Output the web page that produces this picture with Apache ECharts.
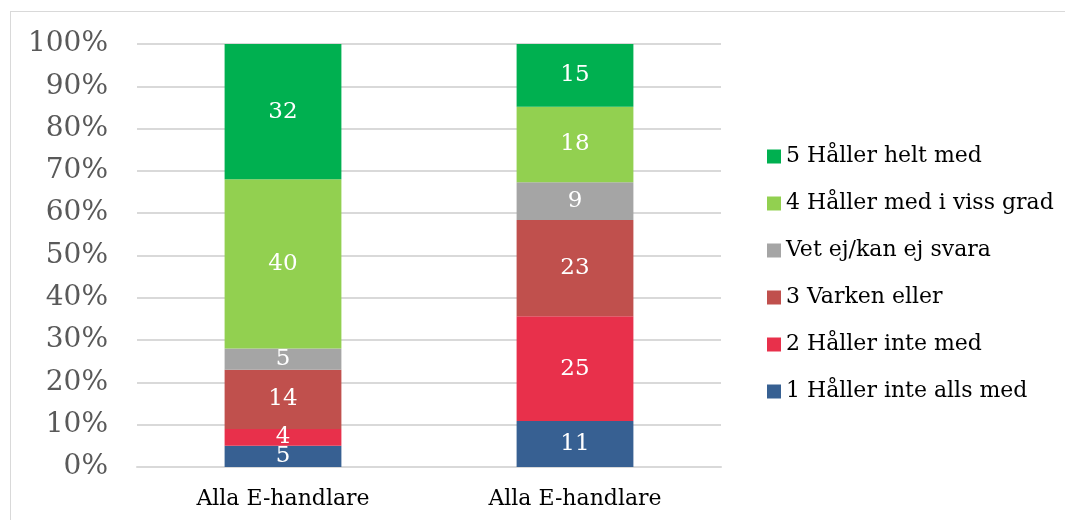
<!DOCTYPE html>
<html>
<head>
<meta charset="utf-8">
<script src="https://cdn.jsdelivr.net/npm/echarts@6/dist/echarts.min.js"></script>
<style>
  html, body { margin: 0; padding: 0; background: #fff; }
  #wrap { position: relative; width: 1065px; height: 520px; overflow: hidden; }
  #frame { position: absolute; left: 10px; top: 11px; width: 1100px; height: 560px; border: 1.5px solid #d9d9d9; box-sizing: border-box; }
  #main { position: absolute; left: 0; top: 0; width: 1065px; height: 520px; }
</style>
</head>
<body>
<div id="wrap">
  <div id="frame"></div>
  <div id="main"></div>
</div>
<script>
// kategorier och svar (antal per svarsalternativ)
var categories = ["Alla E-handlare", "Alla E-handlare"];
var seriesNames = [
  "1 Håller inte alls med",
  "2 Håller inte med",
  "3 Varken eller",
  "Vet ej/kan ej svara",
  "4 Håller med i viss grad",
  "5 Håller helt med"
];
var s1 = [5, 11];
var s2 = [4, 25];
var s3 = [14, 23];
var sVetEj = [5, 9];
var s4 = [40, 18];
var s5 = [32, 15];
var colors = ["#376092", "#E8304B", "#C0504D", "#A5A5A5", "#92D050", "#00B050"];

var all = [s1, s2, s3, sVetEj, s4, s5];
var totals = categories.map(function (c, i) {
  return all.reduce(function (sum, arr) { return sum + arr[i]; }, 0);
});

var chartDom = document.getElementById("main");
var myChart = echarts.init(chartDom);
var font = "'DejaVu Serif', 'Liberation Serif', serif";

var option = {
  animation: false,
  textStyle: { fontFamily: font },
  grid: { left: 137, right: 344, top: 44, bottom: 53 },
  legend: {
    orient: "vertical",
    left: 762,
    top: 139,
    itemWidth: 14,
    itemHeight: 14,
    itemGap: 22,
    icon: "rect",
    data: seriesNames.slice().reverse(),
    textStyle: { fontFamily: font, fontSize: 22, color: "#000", lineHeight: 25 }
  },
  xAxis: {
    type: "category",
    data: categories,
    axisLine: { show: true, lineStyle: { color: "#d9d9d9", width: 2 } },
    axisTick: { show: false },
    axisLabel: { fontFamily: font, fontSize: 22, color: "#000", margin: 21 }
  },
  yAxis: {
    type: "value",
    min: 0,
    max: 100,
    interval: 10,
    axisLine: { show: false },
    axisTick: { show: false },
    splitLine: { lineStyle: { color: "#d9d9d9", width: 2 } },
    axisLabel: {
      fontFamily: font, fontSize: 28, color: "#595959", margin: 29,
      formatter: "{value}%"
    }
  },
  series: all.map(function (arr, k) {
    return {
      name: seriesNames[k],
      type: "bar",
      stack: "total",
      barWidth: "40%",
      itemStyle: { color: colors[k] },
      label: {
        show: true,
        position: "inside",
        color: "#fff",
        fontFamily: font,
        fontSize: 23,
        formatter: function (p) { return arr[p.dataIndex]; }
      },
      data: arr.map(function (v, i) { return v / totals[i] * 100; })
    };
  })
};
option && myChart.setOption(option);
</script>
</body>
</html>
